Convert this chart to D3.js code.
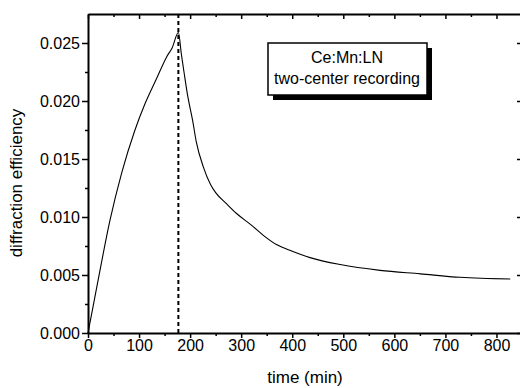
<!DOCTYPE html>
<html>
<head>
<meta charset="utf-8">
<title>Ce:Mn:LN two-center recording</title>
<style>
  body { margin: 0; background: #fff; }
  svg { display: block; font-family: "Liberation Sans", Arial, sans-serif; }
  .axis path, .axis line { stroke: #000; fill: none; }
  .axis text { font-size: 16px; fill: #000; }
</style>
<script src="https://d3js.org/d3.v7.min.js"></script>
</head>
<body>
<script>
// time (min) and diffraction efficiency
var times = [0, 10, 20, 43, 66, 92, 112, 135, 154, 165, 177,
             183, 188, 195, 205, 212, 226, 240, 250, 270, 291, 320, 344,
             370, 400, 435, 494, 572, 651, 729, 827];
var effs  = [0, 0.0023, 0.0046, 0.0097, 0.0138, 0.0175, 0.0198, 0.0220, 0.0238, 0.0246, 0.0259,
             0.0240, 0.0225, 0.0205, 0.0183, 0.0165, 0.0143, 0.0128, 0.0121, 0.0112, 0.0103, 0.0093, 0.0084,
             0.0076, 0.00705, 0.0065, 0.0059, 0.0054, 0.0051, 0.0048, 0.00465];
var switchTime = 177;
var xTicks = [0, 100, 200, 300, 400, 500, 600, 700, 800];
var yTicks = [0, 0.005, 0.010, 0.015, 0.020, 0.025];
var legendLines = ["Ce:Mn:LN", "two-center recording"];

var W = 520, H = 388;
var margin = {top: 14, right: -2, bottom: 55, left: 88};
var width = W - margin.left - margin.right,
    height = H - margin.top - margin.bottom;

var svg = d3.select("body").append("svg")
  .attr("width", W).attr("height", H);
var g = svg.append("g")
  .attr("transform", "translate(" + margin.left + "," + margin.top + ")");

var x = d3.scaleLinear().domain([0, 850]).range([0, width]);
var y = d3.scaleLinear().domain([0, 0.0275]).range([height, 0]);

var xMinor = d3.range(50, 850, 100);
var yMinor = d3.range(0.0025, 0.0275, 0.005);

// bottom axis
g.append("g").attr("class", "axis")
  .attr("transform", "translate(0," + height + ")")
  .call(d3.axisBottom(x).tickValues(xTicks).tickFormat(d3.format("d")).tickSize(5).tickSizeOuter(0).tickPadding(2));
g.append("g").attr("class", "axis")
  .attr("transform", "translate(0," + height + ")")
  .call(d3.axisBottom(x).tickValues(xMinor).tickFormat("").tickSize(3).tickSizeOuter(0))
  .select(".domain").remove();

// top axis (inward ticks)
g.append("g").attr("class", "axis")
  .call(d3.axisTop(x).tickValues(xTicks).tickFormat("").tickSize(-5).tickSizeOuter(0));
g.append("g").attr("class", "axis")
  .call(d3.axisTop(x).tickValues(xMinor).tickFormat("").tickSize(-3).tickSizeOuter(0))
  .select(".domain").remove();

// left axis
g.append("g").attr("class", "axis")
  .call(d3.axisLeft(y).tickValues(yTicks).tickFormat(d3.format(".3f")).tickSize(6).tickSizeOuter(0).tickPadding(2));
g.append("g").attr("class", "axis")
  .call(d3.axisLeft(y).tickValues(yMinor).tickFormat("").tickSize(3).tickSizeOuter(0))
  .select(".domain").remove();

// right axis (inward ticks)
g.append("g").attr("class", "axis")
  .attr("transform", "translate(" + width + ",0)")
  .call(d3.axisRight(y).tickValues(yTicks).tickFormat("").tickSize(-5).tickSizeOuter(0));
g.append("g").attr("class", "axis")
  .attr("transform", "translate(" + width + ",0)")
  .call(d3.axisRight(y).tickValues(yMinor).tickFormat("").tickSize(-2).tickSizeOuter(0))
  .select(".domain").remove();

g.selectAll(".axis .domain").attr("stroke-width", 2);
g.selectAll(".axis .tick line").attr("stroke-width", 1.5);

// dashed marker where recording stops
g.append("line")
  .attr("x1", x(switchTime)).attr("x2", x(switchTime))
  .attr("y1", 0).attr("y2", height)
  .attr("stroke", "#000").attr("stroke-width", 2)
  .attr("stroke-dasharray", "4,3");

// curve
var line = d3.line()
  .x(function (d, i) { return x(times[i]); })
  .y(function (d) { return y(d); })
  .curve(d3.curveMonotoneX);
g.append("path")
  .datum(effs)
  .attr("d", line)
  .attr("fill", "none")
  .attr("stroke", "#000")
  .attr("stroke-width", 1.1);

// axis titles
svg.append("text")
  .attr("x", 305).attr("y", 383)
  .attr("text-anchor", "middle")
  .attr("font-size", 17)
  .text("time (min)");
svg.append("text")
  .attr("transform", "translate(22,183) rotate(-90)")
  .attr("text-anchor", "middle")
  .attr("font-size", 17)
  .text("diffraction efficiency");

// legend box with drop shadow
var lg = svg.append("g");
lg.append("rect")
  .attr("x", 273).attr("y", 48).attr("width", 159).attr("height", 52)
  .attr("fill", "#000");
lg.append("rect")
  .attr("x", 268).attr("y", 43).attr("width", 159).attr("height", 52)
  .attr("fill", "#fff").attr("stroke", "#000").attr("stroke-width", 1.5);
lg.selectAll("text.leg")
  .data(legendLines)
  .enter().append("text")
  .attr("class", "leg")
  .attr("x", 347)
  .attr("y", function (d, i) { return 63 + i * 21; })
  .attr("text-anchor", "middle")
  .attr("font-size", 16)
  .text(function (d) { return d; });
</script>
</body>
</html>
